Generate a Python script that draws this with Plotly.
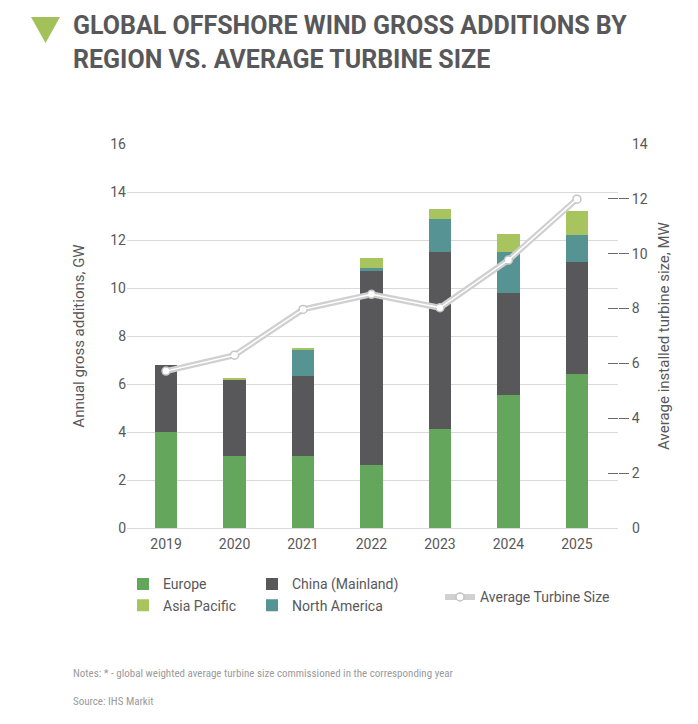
import plotly.graph_objects as go

years = ["2019", "2020", "2021", "2022", "2023", "2024", "2025"]
europe = [4.02, 3.02, 2.98, 2.63, 4.12, 5.54, 6.43]
china = [2.76, 3.17, 3.36, 8.07, 7.39, 4.24, 4.66]
north_america = [0.0, 0.0, 1.08, 0.13, 1.36, 1.73, 1.13]
asia_pacific = [0.0, 0.05, 0.08, 0.41, 0.42, 0.73, 1.00]
turbine_size = [5.72, 6.30, 7.97, 8.52, 8.03, 9.77, 11.99]

C_EU = "#63a65c"
C_CN = "#58585a"
C_NA = "#569493"
C_AP = "#a8c45e"
TXT = "#58585a"
GRID = "#d9d9d9"
FONT = "Roboto, 'Open Sans', sans-serif"
BW = 0.325

fig = go.Figure()
fig.add_trace(go.Bar(x=years, y=europe, name="Europe", marker_color=C_EU, width=BW,
                     marker_line_width=0, legend="legend"))
fig.add_trace(go.Bar(x=years, y=china, name="China (Mainland)", marker_color=C_CN, width=BW,
                     marker_line_width=0, legend="legend2"))
fig.add_trace(go.Bar(x=years, y=north_america, name="North America", marker_color=C_NA, width=BW,
                     marker_line_width=0, legend="legend2"))
fig.add_trace(go.Bar(x=years, y=asia_pacific, name="Asia Pacific", marker_color=C_AP, width=BW,
                     marker_line_width=0, legend="legend"))
fig.add_trace(go.Scatter(x=years, y=turbine_size, name="Average Turbine Size", yaxis="y2",
                         mode="lines+markers", line=dict(color="#d0d0d0", width=6),
                         marker=dict(size=8, color="white", line=dict(color="#c4c4c4", width=1.5)),
                         legend="legend3"))
fig.add_trace(go.Scatter(x=years, y=turbine_size, name="Average Turbine Size", yaxis="y3",
                         mode="lines", line=dict(color="white", width=1.5),
                         showlegend=False, hoverinfo="skip"))

# page body has an 8px margin: work in screen coords and shift
OFF = 8
W, H = 698 - 2 * OFF, 724 - 2 * OFF
L, R, T, B = 127 - OFF, 618 - OFF, 144 - OFF, 527.7 - OFF
pw, ph = R - L, B - T
def px(xs):
    return (xs - OFF - L) / pw
def py(ys):
    return (B - (ys - OFF)) / ph

fig.update_layout(
    width=W, height=H,
    margin=dict(l=L, r=W - R, t=T, b=H - B, pad=0),
    paper_bgcolor="white", plot_bgcolor="white",
    barmode="stack", bargap=0.5,
    font=dict(family=FONT, size=14, color=TXT),
    xaxis=dict(type="category", range=[-0.57, 6.6], showgrid=False, showline=False,
               ticks="", tickfont=dict(size=14, color=TXT), zeroline=False,
               ticklabelstandoff=6),
    yaxis=dict(range=[0, 16], dtick=2, showgrid=True, gridcolor=GRID, gridwidth=1.2,
               showline=False, ticks="", zeroline=True, zerolinecolor=GRID, zerolinewidth=1.2,
               tickfont=dict(size=14, color=TXT),
               title=dict(text="Annual gross additions, GW", font=dict(size=15, color=TXT), standoff=22)),
    yaxis2=dict(range=[0, 14], dtick=2, overlaying="y", side="right", showgrid=False,
                showline=False, ticks="outside", ticklen=10, tickcolor="#6a6a6a", tickwidth=1,
                zeroline=False, tickfont=dict(size=14, color=TXT),
                tickvals=[2, 4, 6, 8, 10, 12],
                title=dict(text="Average installed turbine size, MW", font=dict(size=15, color=TXT), standoff=11)),
    yaxis3=dict(range=[0, 14], overlaying="y", side="right", showgrid=False, showline=False,
                ticks="inside", ticklen=10, tickcolor="#6a6a6a", tickwidth=1,
                tickvals=[2, 4, 6, 8, 10, 12], showticklabels=False, zeroline=False),
    legend=dict(x=px(123), y=py(568), xanchor="left", yanchor="top", orientation="v",
                traceorder="normal", font=dict(size=14, color=TXT), itemwidth=30,
                tracegroupgap=0, bgcolor="rgba(0,0,0,0)"),
    legend2=dict(x=px(252), y=py(568), xanchor="left", yanchor="top", orientation="v",
                 traceorder="normal", font=dict(size=14, color=TXT), itemwidth=30,
                 tracegroupgap=0, bgcolor="rgba(0,0,0,0)"),
    legend3=dict(x=px(440), y=py(597), xanchor="left", yanchor="middle", orientation="v",
                 font=dict(size=14, color=TXT), itemwidth=30, bgcolor="rgba(0,0,0,0)"),
    showlegend=True,
)

# right-axis "14" and "0" labels (no tick mark in reference)
fig.add_annotation(xref="paper", yref="paper", x=px(630), y=1.0, text="14", showarrow=False,
                   xanchor="left", yanchor="middle", font=dict(size=14, color=TXT))
fig.add_annotation(xref="paper", yref="paper", x=px(630), y=0.0, text="0", showarrow=False,
                   xanchor="left", yanchor="middle", font=dict(size=14, color=TXT))

# Title
fig.add_annotation(xref="paper", yref="paper", x=px(71), y=py(26),
                   text="<b>GLOBAL OFFSHORE WIND GROSS ADDITIONS BY</b>", showarrow=False,
                   xanchor="left", yanchor="middle", font=dict(size=25, color=TXT, family=FONT))
fig.add_annotation(xref="paper", yref="paper", x=px(71), y=py(60),
                   text="<b>REGION VS. AVERAGE TURBINE SIZE</b>", showarrow=False,
                   xanchor="left", yanchor="middle", font=dict(size=25, color=TXT, family=FONT))
fig.add_shape(type="path", xref="paper", yref="paper",
              path=f"M {px(31)} {py(17)} L {px(60)} {py(17)} L {px(45.5)} {py(43)} Z",
              fillcolor="#a2c15a", line=dict(width=0))

# Notes
NOTE_FONT = "'Liberation Sans Narrow', 'Roboto Condensed', Roboto, sans-serif"
fig.add_annotation(xref="paper", yref="paper", x=px(71), y=py(673),
                   text="Notes: * - global weighted average turbine size commissioned in the corresponding year",
                   showarrow=False, xanchor="left", yanchor="middle",
                   font=dict(size=11, color="#9a9a9a", family=NOTE_FONT))
fig.add_annotation(xref="paper", yref="paper", x=px(71), y=py(701),
                   text="Source: IHS Markit", showarrow=False, xanchor="left", yanchor="middle",
                   font=dict(size=11, color="#9a9a9a", family=NOTE_FONT))

fig.write_html("out.html")
